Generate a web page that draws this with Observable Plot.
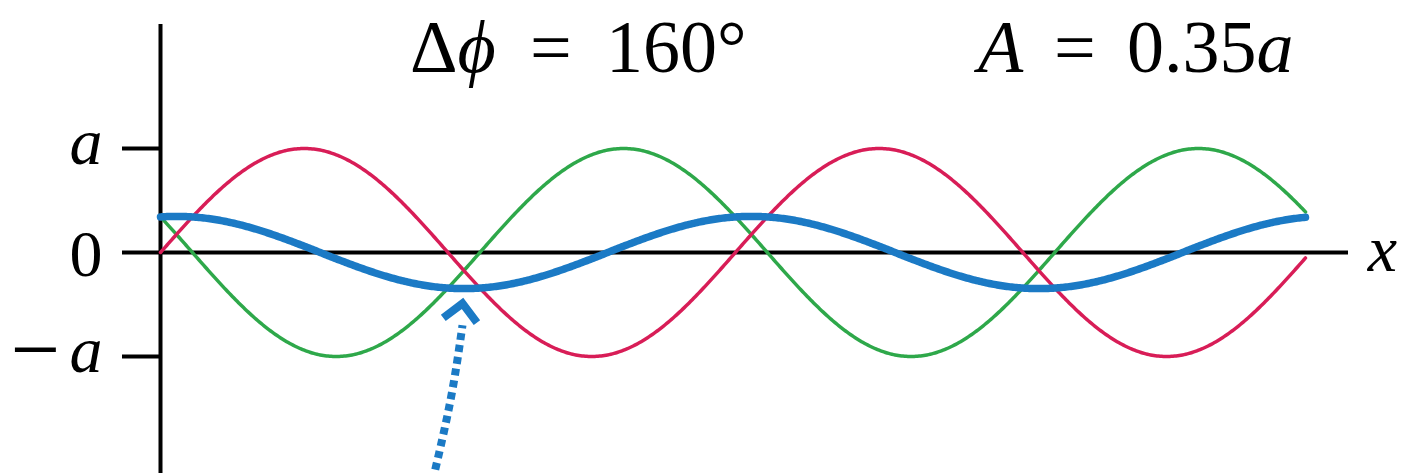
<!DOCTYPE html>
<html>
<head>
<meta charset="utf-8">
<script src="https://cdn.jsdelivr.net/npm/d3@7"></script>
<script src="https://cdn.jsdelivr.net/npm/@observablehq/plot@0.6"></script>
<style>
  html, body { margin: 0; padding: 0; background: #fff; }
  #chart svg { display: block; }
</style>
</head>
<body>
<div id="chart"></div>
<script>
// Two waves of amplitude a, offset by a phase difference, and their sum.
const phaseDiffDeg = 160;          // Δφ
const waveAmplitude = 1;           // a
const phaseRange = [0, 717];       // phase along x, in degrees
const yTickValues = [1, 0, -1];
const yTickLabels = ["a", "0", "\u2212a"];
// dotted pointer to the trough of the resultant: tail, bend, end of dots, head tip
const pointerX = [170.3, 181.6, 189.1];
const pointerY = [-2.2, -1.42, -0.70];
const pointerTip = {x: 189.1, y: -0.49};

const colors = {red: "#d81d57", green: "#2ea84a", blue: "#1b7ac5"};

const rad = Math.PI / 180;
const phases = d3.range(phaseRange[0], phaseRange[1] + 0.5, 1);
const red = phases.map(p => ({p, v: waveAmplitude * Math.sin(p * rad)}));
const green = phases.map(p => ({p, v: waveAmplitude * Math.sin((p + phaseDiffDeg) * rad)}));
const blue = phases.map((p, i) => ({p, v: red[i].v + green[i].v}));

const W = 1402, H = 473;
const pxPerDeg = (1305 - 160) / (phaseRange[1] - phaseRange[0]);
const pxPerA = 104;
const yMax = 252 / pxPerA, yMin = -(H - 252) / pxPerA;
const xLeftTick = -38 / pxPerDeg;
const xAxisEnd = phaseRange[1] + 43 / pxPerDeg;
const xLabelPos = phaseRange[1] + 77 / pxPerDeg;
const labelX = -58 / pxPerDeg;
const minusX = -100 / pxPerDeg;

const serif = "'Liberation Serif', 'Times New Roman', serif";

// open chevron, tip at the origin, pointing up
const chevron = {
  draw(context, size) {
    const s = Math.sqrt(size / Math.PI);
    context.moveTo(-s, s);
    context.lineTo(0, 0);
    context.lineTo(s, s);
  }
};

// split each tick label into its sign and its symbol
const tickData = yTickValues.map((v, i) => {
  const t = yTickLabels[i];
  const neg = t.startsWith("\u2212");
  return {v, sign: neg ? "\u2212" : "", body: neg ? t.slice(1) : t};
});

const chart = Plot.plot({
  width: W,
  height: H,
  marginLeft: 160,
  marginRight: W - 1305,
  marginTop: 0,
  marginBottom: 0,
  x: {domain: phaseRange, axis: null},
  y: {domain: [yMin, yMax], axis: null},
  style: {fontFamily: serif, background: "#fff", overflow: "visible"},
  marks: [
    // axes
    Plot.ruleX([0], {y1: yMin, y2: 228 / pxPerA, stroke: "#000", strokeWidth: 4}),
    Plot.ruleY([0], {x1: xLeftTick, x2: xAxisEnd, stroke: "#000", strokeWidth: 4}),
    Plot.ruleY([1, -1], {x1: xLeftTick, x2: 0, stroke: "#000", strokeWidth: 4}),
    // tick labels
    Plot.text(tickData.filter(d => d.body !== "0"), {
      x: labelX, y: "v", text: "body", textAnchor: "end", fontSize: 66, fontStyle: "italic", dy: -6, fill: "#000"
    }),
    Plot.text(tickData.filter(d => d.body === "0"), {
      x: labelX, y: "v", text: "body", textAnchor: "end", fontSize: 66, dy: 2, fill: "#000"
    }),
    Plot.text(tickData.filter(d => d.sign), {
      x: minusX, y: "v", text: "sign", textAnchor: "end", fontSize: 88, dy: -6, fill: "#000"
    }),
    Plot.text(["x"], {x: xLabelPos, y: 0, text: d => d, fontSize: 66, fontStyle: "italic", dy: -3, fill: "#000"}),
    // waves
    Plot.line(green, {x: "p", y: "v", stroke: colors.green, strokeWidth: 3.5}),
    Plot.line(red, {x: "p", y: "v", stroke: colors.red, strokeWidth: 3.5}),
    Plot.line(blue, {x: "p", y: "v", stroke: colors.blue, strokeWidth: 7.5}),
    // dotted pointer
    Plot.line(pointerX.map((x, i) => ({x, y: pointerY[i]})), {
      x: "x", y: "y", curve: "natural",
      stroke: colors.blue, strokeWidth: 8, strokeDasharray: "7,5", strokeLinecap: "butt"
    }),
    Plot.dot([pointerTip], {
      x: "x", y: "y", symbol: chevron, r: 17, rotate: 8,
      fill: "none", stroke: colors.blue, strokeWidth: 8, strokeLinejoin: "miter"
    })
  ]
});

// Title row along the top of the frame.
const svg = d3.select(chart);
const title = svg.append("g")
  .attr("font-family", serif).attr("font-size", 74).attr("fill", "#000")
  .attr("text-anchor", "start");
const t1 = title.append("text").attr("y", 72);
t1.append("tspan").attr("x", 410).text("\u0394");
t1.append("tspan").attr("font-style", "italic").text("\u03D5");
t1.append("tspan").attr("x", 530).text("=");
t1.append("tspan").attr("x", 606).text("160\u00B0");
const t2 = title.append("text").attr("y", 72);
t2.append("tspan").attr("x", 978).attr("font-style", "italic").text("A");
t2.append("tspan").attr("x", 1054).text("=");
t2.append("tspan").attr("x", 1127).text("0.35");
t2.append("tspan").attr("font-style", "italic").text("a");

document.getElementById("chart").append(chart);
</script>
</body>
</html>
